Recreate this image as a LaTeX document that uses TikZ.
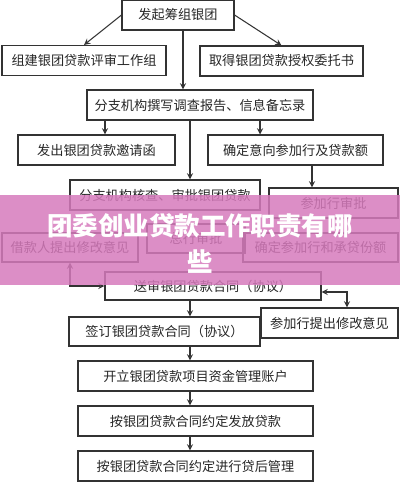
\documentclass[tikz,border=0pt]{standalone}
\usepackage{fontspec}
\newfontfamily\cjk{Noto Sans CJK SC}
\usetikzlibrary{arrows}

\definecolor{banner}{RGB}{214,122,188}

\begin{document}
\begin{tikzpicture}
  [x=0.02cm, y=-0.02cm, >=stealth,
   every node/.style={draw=black!80, line width=0.6pt, inner sep=0pt,
     minimum height=0.6cm, text=black!85, font=\cjk\fontsize{7.5}{9}\selectfont}]

  \tikzstyle{arr} = [->, draw=black!80, line width=0.6pt]
  \tikzstyle{both} = [<->, draw=black!80, line width=0.6pt]

  \useasboundingbox (0,0) rectangle (400,482);

  \coordinate (spine) at (190,0);

  % top part
  \node[minimum width=2.24cm] (found)  at (178,15)    {发起筹组银团};
  \node[minimum width=3.28cm] (team)   at (84,60.5)   {组建银团贷款评审工作组};
  \node[minimum width=3.26cm] (mandate) at (281.5,61) {取得银团贷款授权委托书};
  \node[minimum width=4.52cm] (report) at (200,105)   {分支机构撰写调查报告、信息备忘录};
  \node[minimum width=3.14cm] (invite) at (96.5,150)  {发出银团贷款邀请函};
  \node[minimum width=3.50cm] (amount) at (295.5,150) {确定意向参加行及贷款额};

  % review part
  \node[minimum width=3.80cm] (branch) at (165,195)   {分支机构核查、审批银团贷款};
  \node[minimum width=2.58cm] (partok) at (333.5,203) {参加行审批};
  \node[minimum width=1.96cm, minimum height=0.58cm] (head) at (196,238.5) {总行审批};
  \node[minimum width=2.72cm, minimum height=0.58cm] (borrow) at (70,247.5) {借款人提出修改意见};
  \node[minimum width=3.10cm, minimum height=0.58cm] (share) at (320.5,247.5) {确定参加行和承贷份额};
  \node[minimum width=4.32cm, minimum height=0.56cm] (submit) at (213,286) {送审银团贷款合同（协议）};
  \node[minimum width=2.74cm] (partmod) at (329.5,323) {参加行提出修改意见};

  % bottom part
  \node[minimum width=3.82cm, minimum height=0.58cm] (sign) at (164.5,331.5) {签订银团贷款合同（协议）};
  \node[minimum width=4.70cm] (account) at (195.5,376) {开立银团贷款项目资金管理账户};
  \node[minimum width=4.70cm] (lend)    at (195.5,421) {按银团贷款合同约定发放贷款};
  \node[minimum width=4.70cm] (after)   at (195.5,466) {按银团贷款合同约定进行贷后管理};

  \draw[arr] (found.west) -- (team.north);
  \draw[arr] (found.east) -- (mandate.north);
  \draw[arr] ([xshift=0.1cm]found.south) -- ([xshift=0.1cm]found.south |- report.north);
  \draw[arr] ([xshift=0.17cm]invite.north |- report.south) -- ([xshift=0.17cm]invite.north);
  \draw[arr] ([xshift=-0.71cm]amount.north |- report.south) -- ([xshift=-0.71cm]amount.north);
  \draw[arr] (report.south -| spine) -- (branch.north -| spine);
  \draw[arr] ([xshift=0.33cm]amount.south) -- ([xshift=0.33cm]amount.south |- partok.north);

  \draw[both] (borrow.south) |- (submit.west);
  \draw[both] ([yshift=-0.12cm]submit.east) -| ([xshift=0.35cm]partmod.north);

  \draw[arr] (submit.south -| spine) -- (sign.north -| spine);
  \draw[arr] (sign.south -| spine) -- (account.north -| spine);
  \draw[arr] (account.south -| spine) -- (lend.north -| spine);
  \draw[arr] (lend.south -| spine) -- (after.north -| spine);

  % banner over the chart
  \fill[banner, opacity=0.85] (0,195) rectangle (400,285);
  \node[draw=none, text=white, align=center,
        font=\cjk\bfseries\fontsize{14.5}{20.5}\selectfont] (title) at (200,243)
        {团委创业贷款工作职责有哪\\些};
\end{tikzpicture}
\end{document}
